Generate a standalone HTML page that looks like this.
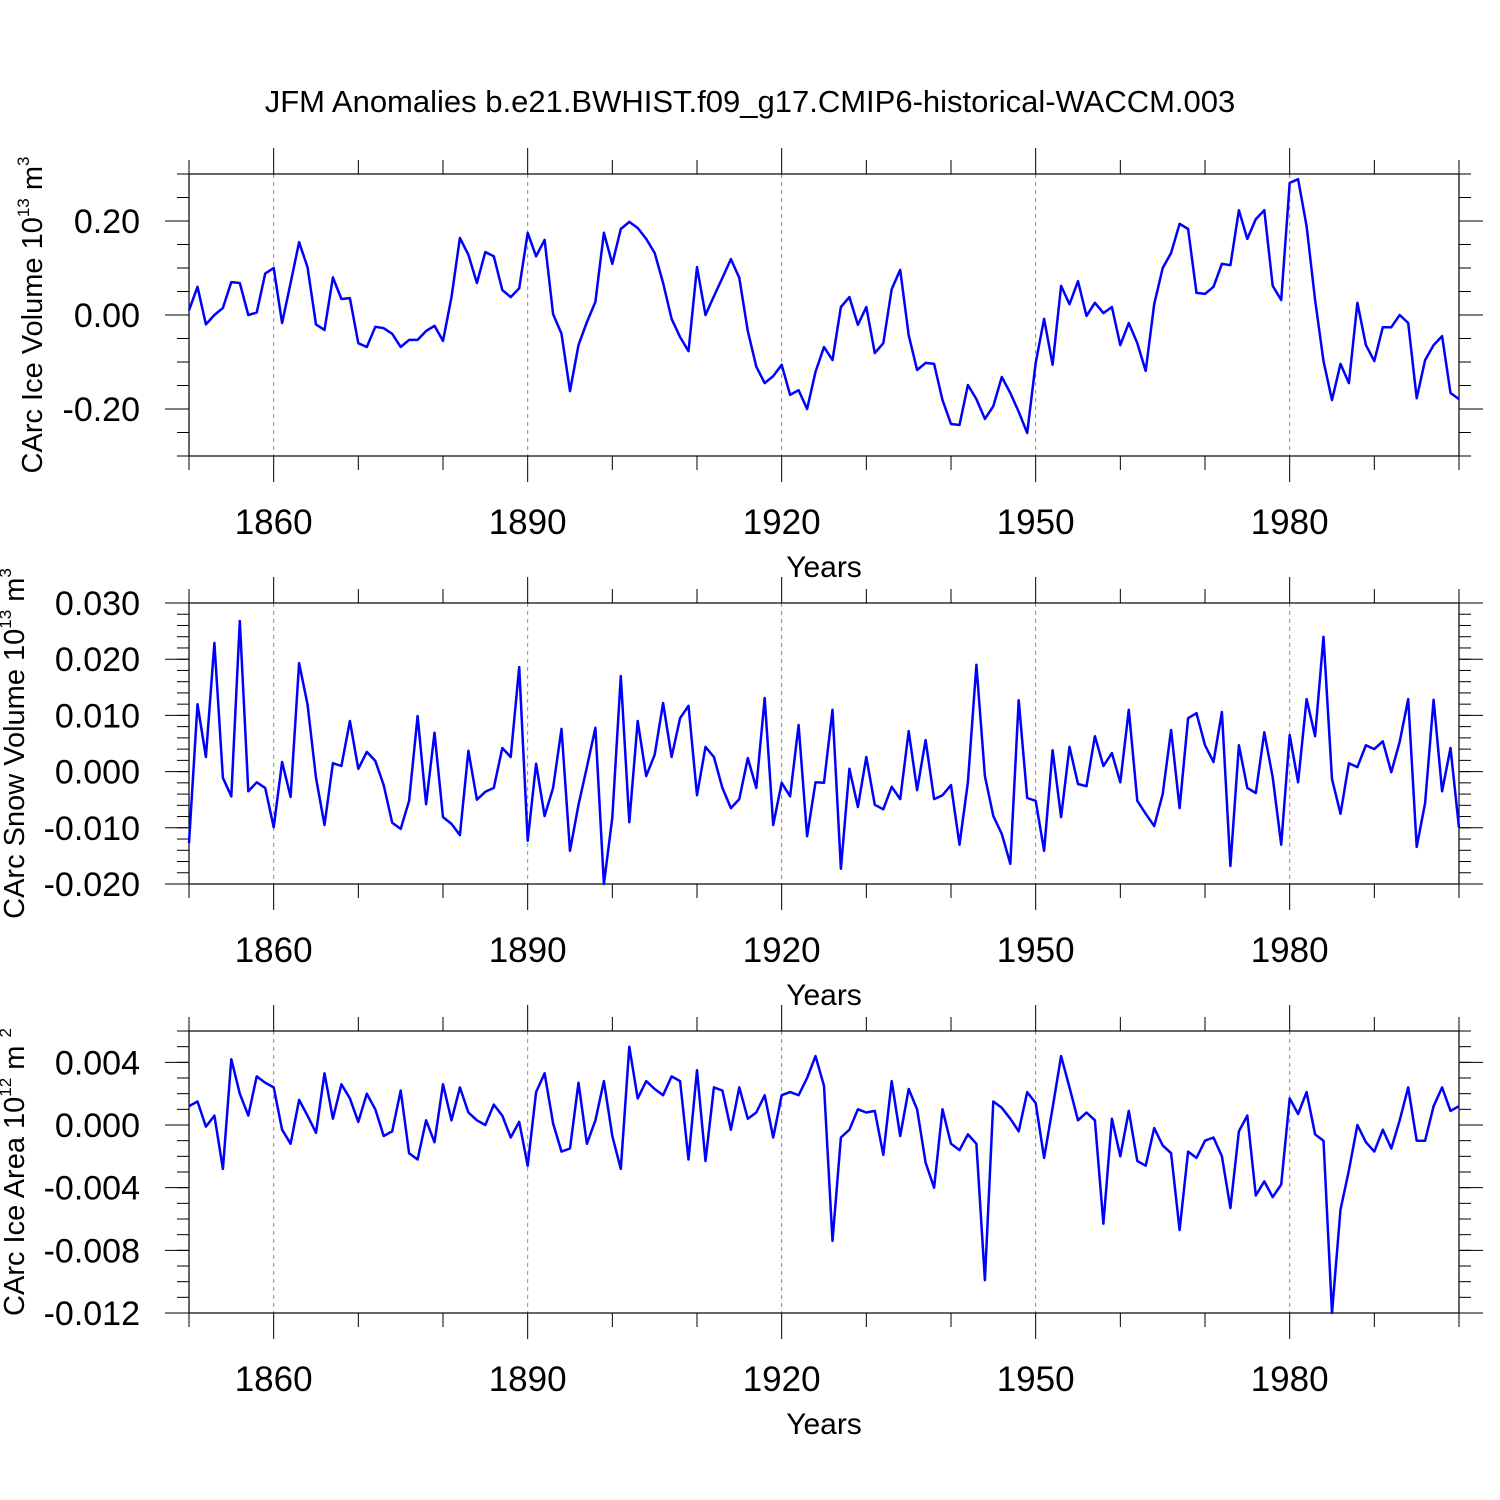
<!DOCTYPE html>
<html><head><meta charset="utf-8"><style>
html,body{margin:0;padding:0;background:#fff;}
svg{display:block;font-family:"Liberation Sans",Arial,sans-serif;}
</style></head><body>
<svg id="chart" width="1500" height="1500" viewBox="0 0 1500 1500" xmlns="http://www.w3.org/2000/svg">
<rect width="1500" height="1500" fill="#fff"/>
<text x="750" y="112" font-size="31" text-anchor="middle">JFM Anomalies b.e21.BWHIST.f09_g17.CMIP6-historical-WACCM.003</text>
</svg>
<script>
const startYear = 1850;
const iceVolume = [0.01,0.06,-0.02,0.0,0.015,0.07,0.068,0.0,0.005,0.088,0.1,-0.017,0.068,0.155,0.102,-0.02,-0.032,0.08,0.034,0.036,-0.06,-0.068,-0.025,-0.028,-0.04,-0.068,-0.053,-0.053,-0.034,-0.023,-0.055,0.038,0.164,0.128,0.068,0.134,0.125,0.053,0.038,0.057,0.175,0.125,0.16,0.002,-0.04,-0.162,-0.064,-0.015,0.028,0.175,0.109,0.183,0.198,0.185,0.162,0.132,0.068,-0.008,-0.047,-0.077,0.102,0.0,0.04,0.079,0.119,0.079,-0.034,-0.11,-0.145,-0.13,-0.106,-0.17,-0.16,-0.2,-0.121,-0.068,-0.096,0.017,0.038,-0.021,0.017,-0.081,-0.06,0.055,0.096,-0.043,-0.117,-0.102,-0.104,-0.181,-0.232,-0.234,-0.149,-0.179,-0.221,-0.194,-0.132,-0.166,-0.206,-0.251,-0.102,-0.008,-0.106,0.062,0.023,0.072,-0.002,0.026,0.004,0.017,-0.064,-0.017,-0.06,-0.119,0.023,0.1,0.132,0.194,0.183,0.047,0.045,0.06,0.109,0.106,0.223,0.162,0.204,0.223,0.062,0.032,0.281,0.289,0.189,0.032,-0.098,-0.181,-0.104,-0.145,0.026,-0.064,-0.098,-0.026,-0.026,0.0,-0.017,-0.177,-0.096,-0.064,-0.045,-0.166,-0.179];
const snowVolume = [-12.7,12,2.6,22.9,-1.1,-4.4,26.8,-3.5,-1.9,-2.9,-9.9,1.7,-4.5,19.3,12,-1.1,-9.5,1.5,1,9,0.5,3.5,1.9,-2.4,-9.1,-10.2,-5.2,9.9,-5.8,6.9,-8.1,-9.3,-11.3,3.7,-5,-3.6,-2.9,4.2,2.6,18.6,-12.3,1.4,-7.9,-2.9,7.6,-14.1,-5.9,0.8,7.8,-20,-8.2,17,-9,9,-0.8,3,12.2,2.6,9.5,11.7,-4.2,4.4,2.6,-2.9,-6.5,-4.9,2.4,-2.9,13.1,-9.5,-2,-4.4,8.3,-11.5,-1.9,-2,11,-17.3,0.5,-6.3,2.6,-5.9,-6.7,-2.7,-4.9,7.2,-3.3,5.6,-4.9,-4.2,-2.4,-13,-1.9,19,-0.8,-7.9,-11.1,-16.4,12.7,-4.7,-5.2,-14.1,3.8,-8.1,4.4,-2.2,-2.6,6.3,1,3.3,-1.9,11,-5.2,-7.5,-9.7,-4,7.4,-6.5,9.5,10.4,4.7,1.7,10.6,-16.8,4.7,-2.9,-3.8,7,-1,-13,6.5,-1.9,12.9,6.3,24,-1.3,-7.5,1.5,0.8,4.7,4,5.4,-0.1,5.3,12.9,-13.4,-5.6,12.8,-3.5,4.2,-10].map(v=>v/1000);
const iceArea = [1.2,1.5,-0.1,0.6,-2.8,4.2,2,0.6,3.1,2.7,2.4,-0.3,-1.2,1.6,0.6,-0.5,3.3,0.4,2.6,1.7,0.2,2,1,-0.7,-0.4,2.2,-1.8,-2.2,0.3,-1.1,2.6,0.3,2.4,0.8,0.3,0,1.3,0.6,-0.8,0.2,-2.6,2.1,3.3,0.1,-1.7,-1.5,2.7,-1.2,0.3,2.8,-0.7,-2.8,5,1.7,2.8,2.3,1.9,3.1,2.8,-2.2,3.5,-2.3,2.4,2.2,-0.3,2.4,0.4,0.8,1.9,-0.8,1.9,2.1,1.9,3,4.4,2.5,-7.4,-0.8,-0.3,1,0.8,0.9,-1.9,2.8,-0.7,2.3,1,-2.4,-4,1,-1.2,-1.6,-0.6,-1.2,-9.9,1.5,1.1,0.4,-0.4,2.1,1.4,-2.1,1.1,4.4,2.4,0.3,0.8,0.3,-6.3,0.4,-2,0.9,-2.3,-2.6,-0.2,-1.3,-1.8,-6.7,-1.7,-2.1,-1,-0.8,-2,-5.3,-0.4,0.6,-4.5,-3.6,-4.6,-3.8,1.7,0.7,2.1,-0.6,-1,-12,-5.4,-2.9,0,-1.1,-1.7,-0.3,-1.5,0.3,2.4,-1,-1,1.2,2.4,0.9,1.2].map(v=>v/1000);
const xLabels = [1860,1890,1920,1950,1980];
const panel1Ticks = ["0.20","0.00","-0.20"];
const panel2Ticks = ["0.030","0.020","0.010","0.000","-0.010","-0.020"];
const panel3Ticks = ["0.004","0.000","-0.004","-0.008","-0.012"];

const NS="http://www.w3.org/2000/svg";
const svg=document.getElementById('chart');
const L=189,R=1459,X0=1850,X1=2000;
const xs=y=>L+(y-X0)/(X1-X0)*(R-L);
function mk(tag,attrs,parent){const e=document.createElementNS(NS,tag);for(const k in attrs)e.setAttribute(k,attrs[k]);(parent||svg).appendChild(e);return e;}

function panel(idx,top,bot,ymin,ymax,data,ticks,minorStep,title,sup,unit,titleX){
  const g=mk('g',{});
  
  
  const ys=v=>bot-(v-ymin)/(ymax-ymin)*(bot-top);
  xLabels.forEach(yr=>{const l=mk('line',{x1:xs(yr),x2:xs(yr),y1:top,y2:bot,stroke:'#888','stroke-width':1,'stroke-dasharray':'4,4'},g);
    
    });
  const f=mk('rect',{x:L,y:top,width:R-L,height:bot-top,fill:'none',stroke:'#000','stroke-width':1.2},g);
  
  
  for(let yr=X0;yr<=X1;yr+=10){
    const major=xLabels.includes(yr);const len=major?26:14;const x=xs(yr);
    mk('line',{x1:x,x2:x,y1:top,y2:top-len,stroke:'#000','stroke-width':1},g);
    mk('line',{x1:x,x2:x,y1:bot,y2:bot+len,stroke:'#000','stroke-width':1},g);
    if(major){const t=mk('text',{x:x,y:bot+78,'font-size':35,'text-anchor':'middle'},g);t.textContent=yr;
      
      }
  }
  const n=Math.round((ymax-ymin)/minorStep);
  for(let i=0;i<=n;i++){const y=ys(ymin+i*minorStep);
    mk('line',{x1:L,x2:L-12,y1:y,y2:y,stroke:'#000','stroke-width':1},g);
    mk('line',{x1:R,x2:R+12,y1:y,y2:y,stroke:'#000','stroke-width':1},g);}
  ticks.forEach(s=>{const v=parseFloat(s),y=ys(v);
    mk('line',{x1:L,x2:L-24,y1:y,y2:y,stroke:'#000','stroke-width':1},g);
    mk('line',{x1:R,x2:R+24,y1:y,y2:y,stroke:'#000','stroke-width':1},g);
    const t=mk('text',{x:140,y:y+12,'font-size':34,'text-anchor':'end'},g);t.textContent=s;
    
    });
  const xt=mk('text',{x:824,y:bot+121,'font-size':30,'text-anchor':'middle'},g);xt.textContent='Years';
  
  
  const cy=(top+bot)/2;
  const yt=mk('text',{x:0,y:0,'font-size':29,'text-anchor':'middle',transform:`translate(${titleX},${cy}) rotate(-90)`},g);
  
  
  const a=mk('tspan',{},yt);a.textContent=title+' 10';
  const b=mk('tspan',{'font-size':17,dy:-13},yt);b.textContent=sup;
  const c=mk('tspan',{dy:13},yt);c.textContent=' '+unit;
  const d=mk('tspan',{'font-size':17,dy:-13},yt);d.textContent=unit==='m'?'3':'2';
  const pts=data.map((v,i)=>xs(startYear+i).toFixed(1)+','+ys(v).toFixed(1)).join(' ');
  const p=mk('polyline',{points:pts,fill:'none',stroke:'#0000ff','stroke-width':2.5,'stroke-linejoin':'round'},g);
  
  
}
panel(1,174,456,-0.3,0.3,iceVolume,panel1Ticks,0.05,'CArc Ice Volume','13','m',42);
panel(2,603,884,-0.02,0.03,snowVolume,panel2Ticks,0.002,'CArc Snow Volume','13','m',24);
panel(3,1031,1313,-0.012,0.006,iceArea,panel3Ticks,0.001,'CArc Ice Area','12','m ',24);
</script>
</body></html>
